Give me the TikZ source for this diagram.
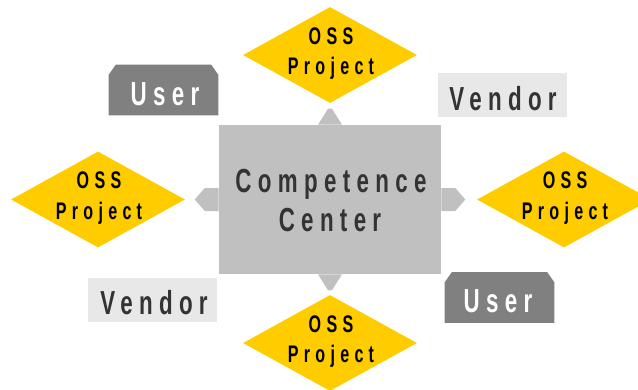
\documentclass[tikz,border=0pt]{standalone}
\usepackage{fontspec}
\setmainfont{Liberation Sans}
\newfontfamily\bigf{Liberation Sans}[FakeStretch=0.67,LetterSpace=19]
\newfontfamily\smallf{Liberation Sans}[FakeStretch=0.67,LetterSpace=22]
\usetikzlibrary{shapes.geometric,calc}
\definecolor{ossyellow}{HTML}{FFCC00}
\definecolor{ccgray}{HTML}{C0C0C0}
\definecolor{usergray}{HTML}{808080}
\definecolor{vendgray}{HTML}{E8E8E8}
\definecolor{darktext}{HTML}{333333}
\tikzset{
  osstext/.style={anchor=base,inner sep=0pt,text=black,font=\smallf\bfseries\fontsize{18pt}{20pt}\selectfont},
  bigtext/.style={anchor=base,inner sep=0pt,font=\bigf\bfseries\fontsize{25pt}{28pt}\selectfont},
  ossdiamond/.style={diamond,fill=ossyellow,inner sep=0pt,minimum width=130.5pt,minimum height=72pt},
  userbox/.style={rectangle,inner sep=0pt,minimum width=81.75pt,minimum height=37.5pt},
  userfill/.style={fill=usergray},
  vendorbox/.style={rectangle,fill=vendgray,inner sep=0pt,minimum width=96.75pt,minimum height=33pt},
  ccbox/.style={rectangle,fill=ccgray,inner sep=0pt,minimum width=166.5pt,minimum height=111.75pt},
  spike/.style={fill=ccgray}
}
\begin{document}
\begin{tikzpicture}[x=0.75pt,y=-0.75pt]
\useasboundingbox (0,0) rectangle (638,389);
\clip (0,0) rectangle (638,389);
% central box
\node[ccbox] (cc) at (330,199.5) {};
\fill[spike] ($(cc.north)+(-12,0)$) -- ($(cc.north)+(-2,-16)$) -- ($(cc.north)+(2,-16)$) -- ($(cc.north)+(12,0)$) -- cycle;
\fill[spike] ($(cc.south)+(-12,0)$) -- ($(cc.south)+(-2,16)$) -- ($(cc.south)+(2,16)$) -- ($(cc.south)+(12,0)$) -- cycle;
\fill[spike] ($(cc.west)+(0,-11.5)$) -- ($(cc.west)+(-14,-11.5)$) -- ($(cc.west)+(-24,0)$) -- ($(cc.west)+(-14,11.5)$) -- ($(cc.west)+(0,11.5)$) -- cycle;
\fill[spike] ($(cc.east)+(0,-11.5)$) -- ($(cc.east)+(14,-11.5)$) -- ($(cc.east)+(24,0)$) -- ($(cc.east)+(14,11.5)$) -- ($(cc.east)+(0,11.5)$) -- cycle;
\node[bigtext,text=darktext] (cc1) at (331,192.5) {Competence};
\node[bigtext,text=darktext] (cc2) at (330,231.5) {Center};
% diamonds
\node[ossdiamond] (dt) at (330,55) {};
\node[osstext] (dt1) at (331,44) {OSS};
\node[osstext] (dt2) at (331,74) {Project};
\node[ossdiamond] (dl) at (98,199.5) {};
\node[osstext] (dl1) at (99,188.5) {OSS};
\node[osstext] (dl2) at (99,219) {Project};
\node[ossdiamond] (dr) at (564,199.5) {};
\node[osstext] (dr1) at (565,188.5) {OSS};
\node[osstext] (dr2) at (565,219) {Project};
\node[ossdiamond] (db) at (330,343) {};
\node[osstext] (db1) at (331,332.5) {OSS};
\node[osstext] (db2) at (331,362.5) {Project};
% users
\node[userbox] (u1) at (163.5,90) {};
\fill[userfill] (u1.south west) -- ($(u1.north west)+(0,10)$) -- ($(u1.north west)+(7,0)$) -- ($(u1.north east)+(-7,0)$) -- ($(u1.north east)+(0,10)$) -- (u1.south east) -- cycle;
\node[bigtext,text=white] (u1t) at (165,105) {User};
\node[userbox] (u2) at (499.5,297.5) {};
\fill[userfill] (u2.south west) -- ($(u2.north west)+(0,10)$) -- ($(u2.north west)+(7,0)$) -- ($(u2.north east)+(-7,0)$) -- ($(u2.north east)+(0,10)$) -- (u2.south east) -- cycle;
\node[bigtext,text=white] (u2t) at (498,312.5) {User};
% vendors
\node[vendorbox] (v1) at (502.5,95) {};
\node[bigtext,text=darktext] (v1t) at (503,110.5) {Vendor};
\node[vendorbox] (v2) at (152.5,299.5) {};
\node[bigtext,text=darktext] (v2t) at (154,314) {Vendor};
\end{tikzpicture}
\end{document}
